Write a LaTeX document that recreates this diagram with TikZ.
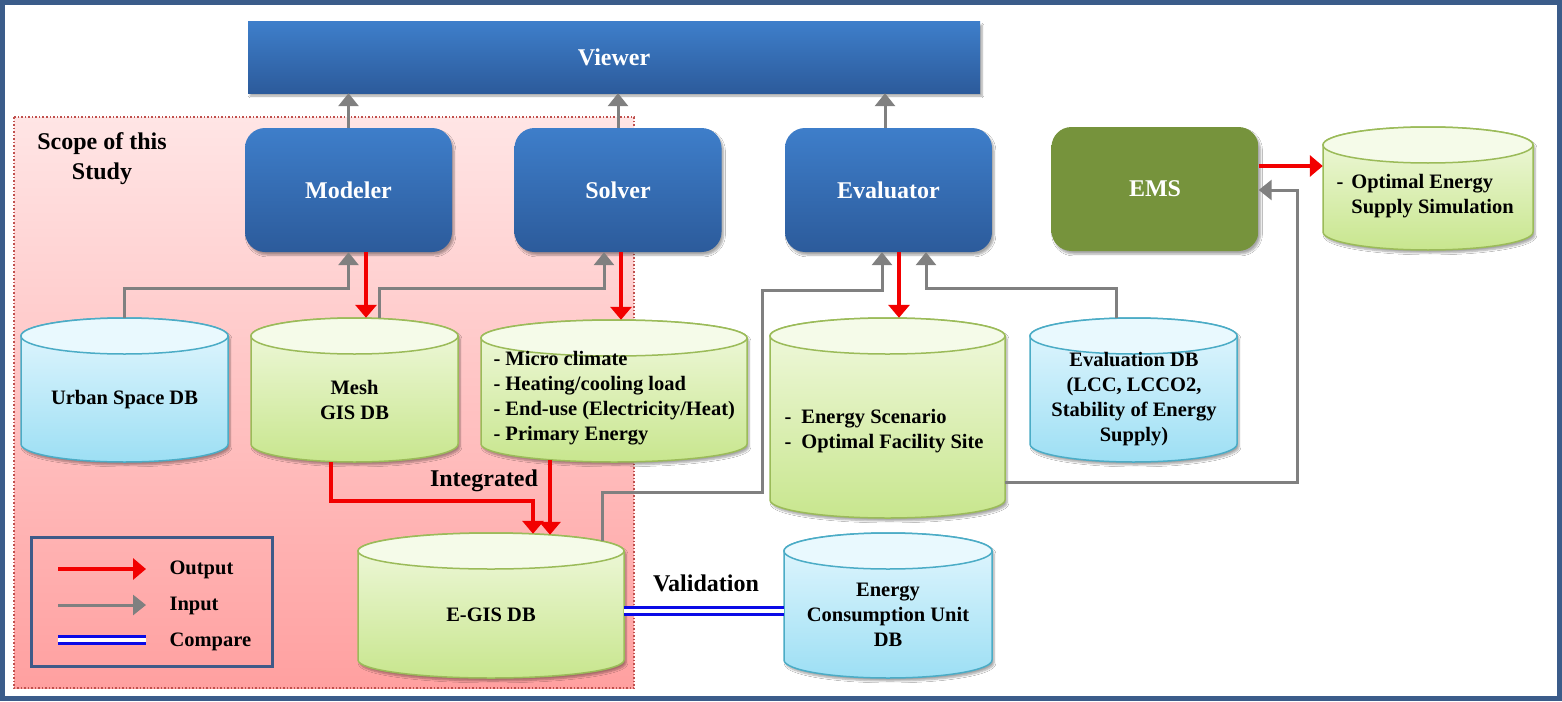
\documentclass[tikz,border=0pt]{standalone}
\usepackage{fontspec}
\setmainfont{Liberation Serif}
\usetikzlibrary{arrows.meta,shadows.blur}
\definecolor{frame}{HTML}{3B5C8A}
\definecolor{boxtop}{HTML}{3E7ECA}
\definecolor{boxbot}{HTML}{2C5B9B}
\definecolor{emsgreen}{HTML}{76933C}
\definecolor{gtop}{HTML}{F1F9DF}
\definecolor{gbot}{HTML}{C8E68E}
\definecolor{gcapc}{HTML}{F5FBE9}
\definecolor{gline}{HTML}{9BBB59}
\definecolor{btop}{HTML}{E4F7FE}
\definecolor{bbot}{HTML}{9DDFF4}
\definecolor{bcapc}{HTML}{E9F9FE}
\definecolor{bline}{HTML}{4BACC6}
\definecolor{pinktop}{HTML}{FFE5E5}
\definecolor{pinkbot}{HTML}{FFA0A0}
\definecolor{scopeline}{HTML}{C0504D}
\definecolor{arrgray}{HTML}{808080}
\definecolor{arrred}{HTML}{F20000}
\definecolor{cmpblue}{HTML}{0A0AE6}
\definecolor{legline}{HTML}{3F5A88}
\newcommand\dbcyl[6]{%
  \pgfmathsetmacro\cylcx{(#2+#3)/2}%
  \pgfmathsetmacro\cylrx{(#3-#2)/2}%
  \pgfmathsetmacro\cylcy{(#4+#5)/2}%
  \pgfmathsetmacro\cylya{#4+18}%
  \pgfmathsetmacro\cylyb{#5-18}%
  \pgfmathsetmacro\cylw{#3-#2}%
  \pgfmathsetmacro\cylh{#5-#4}%
  \path[#6body] (#2,\cylya) -- (#2,\cylyb)
     arc[start angle=180,end angle=360,x radius=\cylrx*1pt,y radius=18pt]
     -- (#3,\cylya)
     arc[start angle=0,end angle=180,x radius=\cylrx*1pt,y radius=18pt] -- cycle;
  \path[#6cap] (\cylcx,\cylya) ellipse[x radius=\cylrx*1pt,y radius=18pt];
  \node[inner sep=0pt,minimum width=\cylw*1pt,minimum height=\cylh*1pt] (#1) at (\cylcx,\cylcy) {};
}
\begin{document}
\begin{tikzpicture}[x=1pt,y=-1pt,
  hdr/.style={font=\fontsize{24}{30}\selectfont\bfseries},
  dbt/.style={font=\fontsize{20.5}{25}\selectfont\bfseries},
  shad/.style={blur shadow={shadow xshift=2pt,shadow yshift=-3pt,shadow blur steps=6,shadow opacity=35}},
  bluebox/.style={rounded corners=20pt,top color=boxtop,bottom color=boxbot,draw=none,
    minimum width=207pt,minimum height=124pt,text=white,hdr,shad},
  gbody/.style={top color=gtop,bottom color=gbot,draw=gline,line width=1.5pt,shad},
  gcap/.style={fill=gcapc,draw=gline,line width=1.5pt},
  bbody/.style={top color=btop,bottom color=bbot,draw=bline,line width=1.5pt,shad},
  bcap/.style={fill=bcapc,draw=bline,line width=1.5pt},
  inp/.style={draw=arrgray,line width=3pt,-{Triangle[width=20pt,length=13pt]}},
  outp/.style={draw=arrred,line width=4pt,-{Triangle[width=21pt,length=13pt]}},
  cmp/.style={draw=cmpblue,double=white,line width=3.5pt,double distance=3.5pt}]
\useasboundingbox (0,0) rectangle (1562,701);
\fill[white] (0,0) rectangle (1562,701);
% scope region
\path[top color=pinktop,bottom color=pinkbot,draw=scopeline,line width=1.5pt,dotted]
  (14,117) rectangle (634,688);
\node[hdr,align=center] (scope) at (102,159) {Scope of this\\Study};
% viewer and engines
\node[top color=boxtop,bottom color=boxbot,minimum width=732pt,minimum height=71pt,
  text=white,hdr,shad] (viewer) at (614,57.5) {Viewer};
\node[bluebox] (modeler) at (348.5,190) {Modeler};
\node[bluebox] (solver) at (618,190) {Solver};
\node[bluebox] (evaluator) at (888.5,190) {Evaluator};
\node[bluebox,top color=emsgreen,bottom color=emsgreen] (ems) at (1155,189) {EMS};
% databases
\dbcyl{urban}{21}{228}{318}{462}{b}
\dbcyl{mesh}{251}{458}{318}{462}{g}
\dbcyl{soldb}{481}{747}{320}{462}{g}
\dbcyl{egis}{358}{624}{533}{678}{g}
\dbcyl{es}{770}{1005}{318}{518}{g}
\dbcyl{evdb}{1030}{1237}{318}{462}{b}
\dbcyl{ecu}{784}{992}{533}{678}{b}
\dbcyl{opt}{1323}{1533}{127}{250}{g}
% texts in databases
\node[dbt] (urbant) at (124.5,400) {Urban Space DB};
\node[dbt,align=center] (mesht) at (354.5,399.5) {Mesh\\GIS DB};
\node[dbt,align=left,anchor=west] (soldbt) at (490,398.5) {- Micro climate\\- Heating/cooling load\\- End-use (Electricity/Heat)\\- Primary Energy};
\node[dbt] (egist) at (491,615) {E-GIS DB};
\node[dbt,align=left,anchor=west] (est) at (781,431.5) {-\hspace{10pt}Energy Scenario\\-\hspace{10pt}Optimal Facility Site};
\node[dbt,align=center] (evdbt) at (1134,399.5) {Evaluation DB\\(LCC, LCCO2,\\Stability of Energy\\Supply)};
\node[dbt,align=center] (ecut) at (888,615) {Energy\\Consumption Unit\\DB};
\node[dbt,align=left,anchor=west] (optt) at (1333,196.5) {-\hspace{8pt}Optimal Energy\\\hphantom{-\hspace{8pt}}Supply Simulation};
% connectors to viewer
\draw[inp] (modeler.north) -- (modeler.north |- viewer.south);
\draw[inp] (solver.north) -- (solver.north |- viewer.south);
\draw[inp] ([xshift=-3.5pt]evaluator.north) -- ([xshift=-3.5pt]evaluator.north |- viewer.south);
% modeler
\draw[inp] (urban.north) -- ++(0,-29) -| (modeler.south);
\draw[outp] ([xshift=17.5pt]modeler.south) -- ([xshift=17.5pt]modeler.south |- mesh.north);
% solver
\draw[inp] ([xshift=24.5pt,yshift=-0.5pt]mesh.north) -- ++(0,-29.5) -| ([xshift=-14pt]solver.south);
\draw[outp] ([xshift=3pt]solver.south) -- ([xshift=3pt]solver.south |- soldb.north);
% integration
\draw[outp] ([xshift=-23.5pt]mesh.south) -- ++(0,39) -| ([xshift=42pt,yshift=-1pt]egis.north);
\draw[outp] ([xshift=-64pt,yshift=2pt]soldb.south) -- ([xshift=-64pt,yshift=-2pt]soldb.south |- egis.north);
\node[hdr] (integrated) at (484,481) {Integrated};
% evaluator
\draw[inp] ([xshift=111pt,yshift=-8pt]egis.north) -- ++(0,-48) -- ++(160,0) -- ++(0,-202) -| ([xshift=-6.5pt]evaluator.south);
\draw[inp] ([xshift=-17.5pt]evdb.north) -- ++(0,-29) -| ([xshift=37.5pt]evaluator.south);
\draw[outp] ([xshift=10.5pt]evaluator.south) -- ([xshift=10.5pt]evaluator.south |- es.north);
% EMS
\draw[inp] ([yshift=-64pt]es.east) -- ++(292,0) |- ([yshift=-1pt]ems.east);
\draw[outp] ([yshift=23pt]ems.east) -- ([yshift=23pt]ems.east -| opt.west);
% validation
\draw[cmp] ([yshift=-5.5pt]egis.east) -- ([yshift=-5.5pt]ecu.west);
\node[hdr] (validation) at (706,583) {Validation};
% legend
\node[draw=legline,line width=3pt,minimum width=241pt,minimum height=129pt] (legend) at (151.5,601.5) {};
\coordinate (lo1) at (58,569); \coordinate (lo2) at (146,569);
\coordinate (li1) at (58,605); \coordinate (li2) at (146,605);
\coordinate (lc1) at (58,640); \coordinate (lc2) at (146,640);
\draw[outp] (lo1) -- (lo2);
\draw[inp] (li1) -- (li2);
\draw[cmp] (lc1) -- (lc2);
\node[dbt,anchor=west] (lout) at (166,570) {Output};
\node[dbt,anchor=west] (linp) at (166,606) {Input};
\node[dbt,anchor=west] (lcmp) at (166,642) {Compare};
% frame
\draw[frame,line width=5pt] (2.5,2.5) rectangle (1559.5,698.5);
\end{tikzpicture}
\end{document}
